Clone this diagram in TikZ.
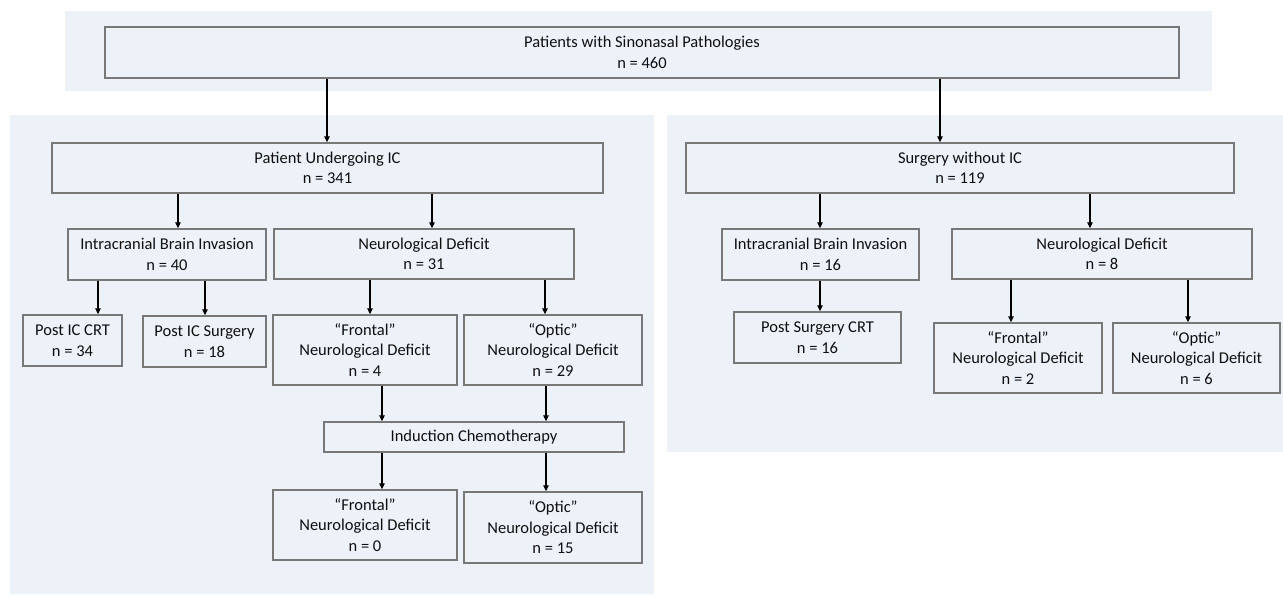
\documentclass[tikz,border=0pt]{standalone}
\usepackage{fontspec}
\setmainfont{Carlito}
\usetikzlibrary{arrows.meta}
\definecolor{panelfill}{RGB}{236,242,248}
\definecolor{boxline}{RGB}{120,120,120}
\definecolor{txt}{RGB}{15,15,15}
\tikzset{
  panel/.style={fill=panelfill, draw=none},
  box/.style={draw=boxline, line width=1.4pt, rectangle, align=center, inner sep=0pt,
    text=txt, font=\fontsize{16.5}{20.5}\selectfont},
  arr/.style={draw=black, line width=1.1pt, -{Triangle[length=6pt,width=5.5pt]}}
}
\begin{document}
\begin{tikzpicture}[x=1pt,y=-1pt]
\useasboundingbox (0,0) rectangle (1283,595);
% panels
\fill[panel] (65,11) rectangle (1212,91);
\fill[panel] (10,115) rectangle (654,594);
\fill[panel] (667,115) rectangle (1283,452);
% boxes
\node[box, minimum width=1074pt, minimum height=51pt] (top) at (642,52.5) {Patients with Sinonasal Pathologies\\n = 460};
\node[box, minimum width=551pt, minimum height=50pt] (puic) at (327.5,168) {Patient Undergoing IC\\n = 341};
\node[box, minimum width=198pt, minimum height=51pt] (ibiL) at (167,254.5) {Intracranial Brain Invasion\\n = 40};
\node[box, minimum width=300pt, minimum height=50pt] (ndL) at (424,254) {Neurological Deficit\\n = 31};
\node[box, minimum width=99pt, minimum height=51pt] (crtL) at (72.5,340.5) {Post IC CRT\\n = 34};
\node[box, minimum width=123pt, minimum height=51pt] (surgL) at (204.5,341.5) {Post IC Surgery\\n = 18};
\node[box, minimum width=184pt, minimum height=70pt] (fr4) at (365,350) {“Frontal”\\Neurological Deficit\\n = 4};
\node[box, minimum width=178pt, minimum height=70pt] (op29) at (553,350) {“Optic”\\Neurological Deficit\\n = 29};
\node[box, minimum width=300pt, minimum height=30pt] (ic) at (474,437) {Induction Chemotherapy};
\node[box, minimum width=184pt, minimum height=70pt] (fr0) at (365,525) {“Frontal”\\Neurological Deficit\\n = 0};
\node[box, minimum width=178pt, minimum height=71pt] (op15) at (553,527.5) {“Optic”\\Neurological Deficit\\n = 15};
\node[box, minimum width=548pt, minimum height=50pt] (swic) at (960,168) {Surgery without IC\\n = 119};
\node[box, minimum width=197pt, minimum height=51pt] (ibiR) at (820.5,254.5) {Intracranial Brain Invasion\\n = 16};
\node[box, minimum width=300pt, minimum height=50pt] (ndR) at (1102,254) {Neurological Deficit\\n = 8};
\node[box, minimum width=167pt, minimum height=51pt] (crtR) at (817.5,337.5) {Post Surgery CRT\\n = 16};
\node[box, minimum width=168pt, minimum height=70pt] (fr2) at (1018,358) {“Frontal”\\Neurological Deficit\\n = 2};
\node[box, minimum width=167pt, minimum height=70pt] (op6) at (1196.5,358) {“Optic”\\Neurological Deficit\\n = 6};
% connectors
\draw[arr] (327,0 |- top.south) -- (327,0 |- puic.north);
\draw[arr] (940,0 |- top.south) -- (940,0 |- swic.north);
\draw[arr] (178,0 |- puic.south) -- (178,0 |- ibiL.north);
\draw[arr] (432,0 |- puic.south) -- (432,0 |- ndL.north);
\draw[arr] (98,0 |- ibiL.south) -- (98,0 |- crtL.north);
\draw[arr] (205,0 |- ibiL.south) -- (205,0 |- surgL.north);
\draw[arr] (370,0 |- ndL.south) -- (370,0 |- fr4.north);
\draw[arr] (545,0 |- ndL.south) -- (545,0 |- op29.north);
\draw[arr] (382,0 |- fr4.south) -- (382,0 |- ic.north);
\draw[arr] (546,0 |- op29.south) -- (546,0 |- ic.north);
\draw[arr] (382,0 |- ic.south) -- (382,0 |- fr0.north);
\draw[arr] (546,0 |- ic.south) -- (546,0 |- op15.north);
\draw[arr] (820,0 |- swic.south) -- (820,0 |- ibiR.north);
\draw[arr] (1090,0 |- swic.south) -- (1090,0 |- ndR.north);
\draw[arr] (820,0 |- ibiR.south) -- (820,0 |- crtR.north);
\draw[arr] (1011,0 |- ndR.south) -- (1011,0 |- fr2.north);
\draw[arr] (1188,0 |- ndR.south) -- (1188,0 |- op6.north);
\end{tikzpicture}
\end{document}
